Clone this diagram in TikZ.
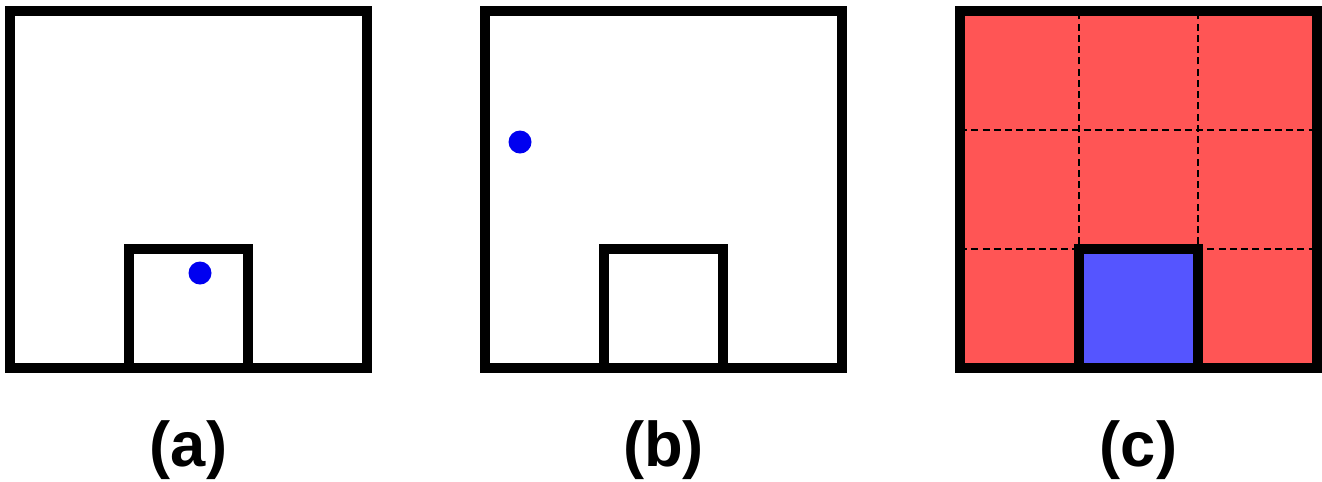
\documentclass[tikz,border=0pt]{standalone}
\usepackage{fontspec}
\setmainfont{Liberation Sans}
\definecolor{cellred}{HTML}{FF5555}
\definecolor{cellblue}{HTML}{5555FF}
\definecolor{dotblue}{HTML}{0000F0}
\begin{document}
\begin{tikzpicture}[every node/.style={font=\fontsize{18}{20}\selectfont\bfseries},
    frame/.style={line width=2.6pt},
    gridline/.style={line width=0.6pt, dash pattern=on 2pt off 1.2pt},
    ball/.style={fill=dotblue}]
        \useasboundingbox (0,0) rectangle (13.22,4.81);

        % (a) agent inside the small square
        \draw[frame] (0.10,1.13) rectangle (3.67,4.70);
        \draw[frame] (1.29,1.13) rectangle (2.48,2.32);
        \fill[ball] (2.00,2.08) circle (0.115);
        \node (lbla) at (1.885,0.31) {(a)};

        % (b) agent outside the small square
        \draw[frame] (4.85,1.13) rectangle (8.42,4.70);
        \draw[frame] (6.04,1.13) rectangle (7.23,2.32);
        \fill[ball] (5.20,3.39) circle (0.115);
        \node (lblb) at (6.635,0.31) {(b)};

        % (c) 3x3 grid of cells
        \fill[cellred] (9.60,1.13) rectangle (13.17,4.70);
        \foreach \i in {1,2} {
            \draw[gridline] (9.60+1.19*\i,1.13) -- (9.60+1.19*\i,4.70);
            \draw[gridline] (9.60,1.13+1.19*\i) -- (13.17,1.13+1.19*\i);
        }
        \draw[frame, fill=cellblue] (10.79,1.13) rectangle (11.98,2.32);
        \draw[frame] (9.60,1.13) rectangle (13.17,4.70);
        \node (lblc) at (11.385,0.31) {(c)};
\end{tikzpicture}
\end{document}
